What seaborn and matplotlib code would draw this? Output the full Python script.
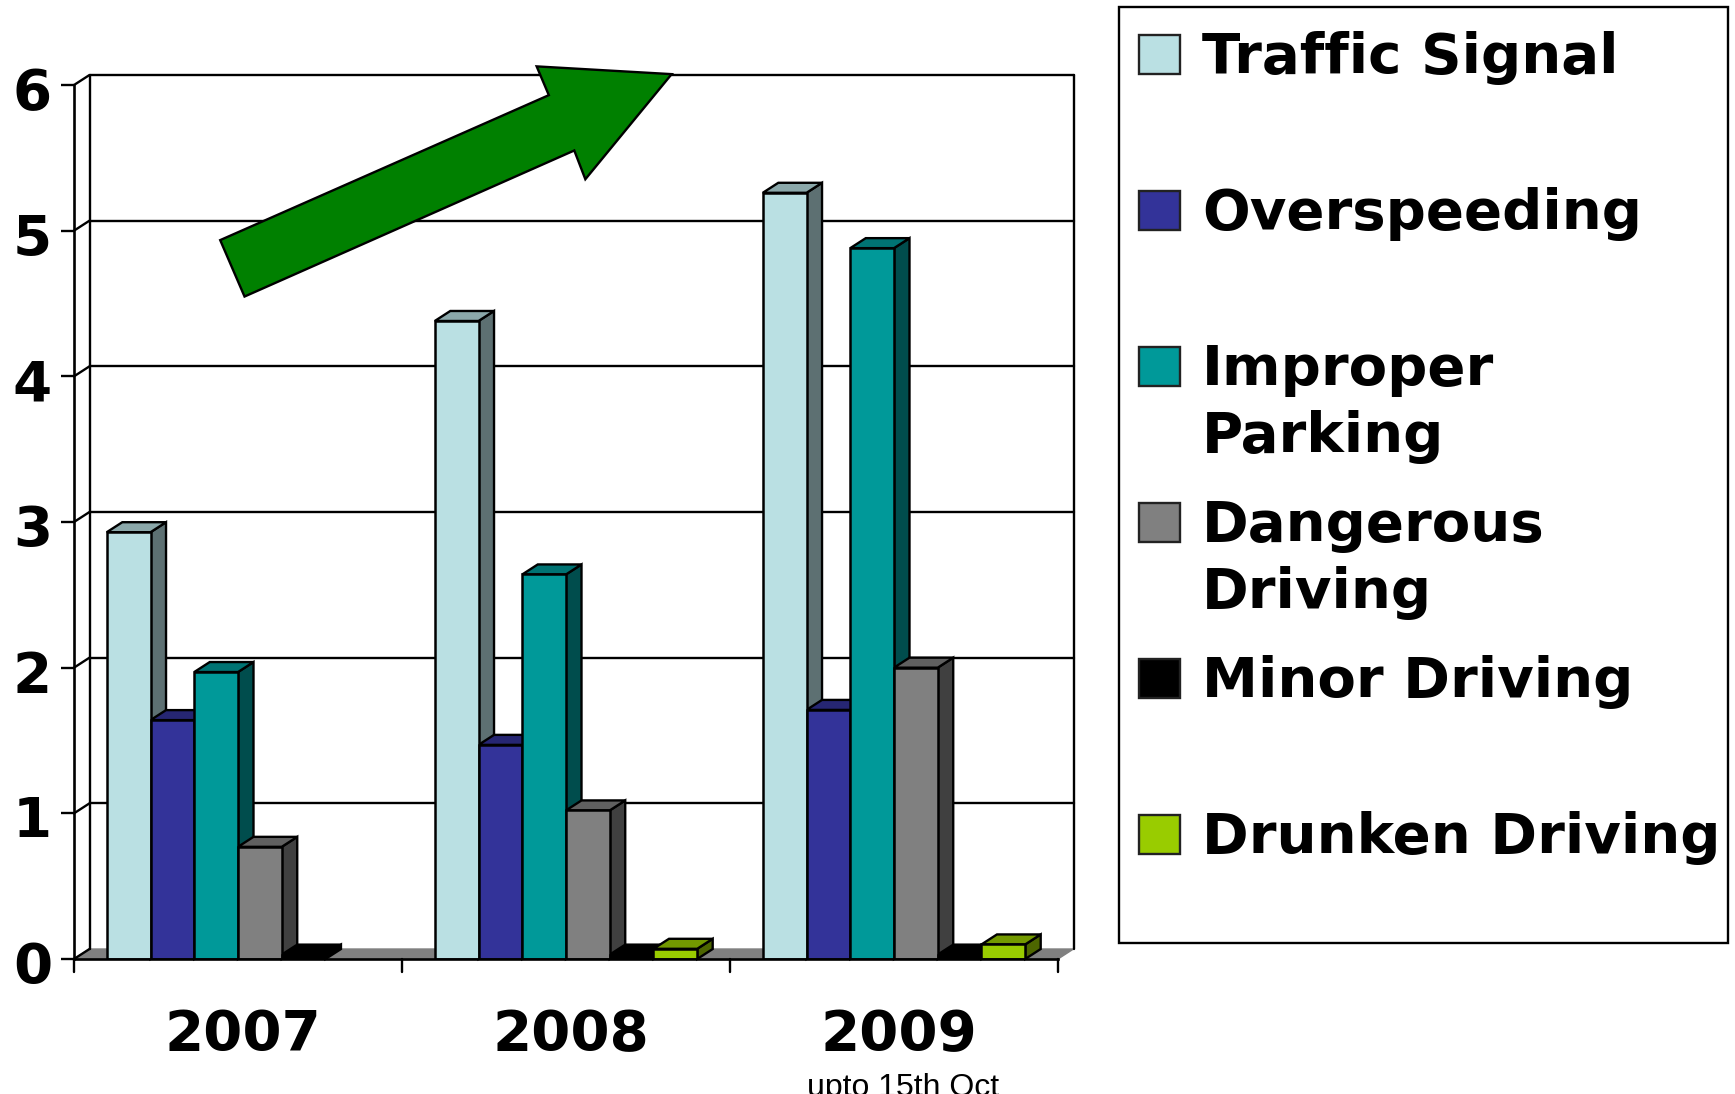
import numpy as np
import pandas as pd
import matplotlib
matplotlib.use("Agg")
import matplotlib.pyplot as plt
from matplotlib.patches import Polygon, Rectangle
from matplotlib.transforms import ScaledTranslation
import matplotlib.colors as mc
import seaborn as sns

years = ["2007", "2008", "2009"]
causes = ["Traffic Signal", "Overspeeding", "Improper\nParking",
          "Dangerous\nDriving", "Minor Driving", "Drunken Driving"]
traffic_signal = [2.93, 4.38, 5.26]
overspeeding = [1.64, 1.47, 1.71]
improper_parking = [1.97, 2.64, 4.88]
dangerous_driving = [0.77, 1.02, 2.00]
minor_driving = [0.03, 0.03, 0.03]
drunken_driving = [np.nan, 0.07, 0.10]
colors = ["#BAE0E3", "#333399", "#009999", "#808080", "#000000", "#99CC00"]
y_ticks = [0, 1, 2, 3, 4, 5, 6]

series = [traffic_signal, overspeeding, improper_parking,
          dangerous_driving, minor_driving, drunken_driving]
df = pd.DataFrame({
    "year": np.repeat(years, len(causes)),
    "cause": causes * len(years),
    "value": [series[c][y] for y in range(len(years)) for c in range(len(causes))],
})

sns.set_theme(style="white")
plt.rcParams["font.family"] = ["DejaVu Sans"]
BIG = 40.5

W, H = 1735, 1094
fig = plt.figure(figsize=(W / 100, H / 100), dpi=100, facecolor="white")
L, R, T, B = 74, 1058, 85, 959
ax = fig.add_axes([L / W, 1 - B / H, (R - L) / W, (B - T) / H])

sns.barplot(data=df, x="year", y="value", hue="cause", hue_order=causes,
            order=years, palette=dict(zip(causes, colors)), saturation=1,
            width=0.8, edgecolor="black", linewidth=1.8, legend=False,
            errorbar=None, ax=ax, zorder=5)
ax.set_xlim(-0.5, 2.5)
ax.set_ylim(0, 6)
ax.set_xlabel("")
ax.set_ylabel("")

# pseudo-3D depth, expressed in data units
dx = 15.5 / ((R - L) / 3)
dy = 10 / ((B - T) / 6)
x0, x1 = -0.5, 2.5
LW = 1.7

# floor
ax.add_patch(Polygon([(x0, 0), (x0 + dx, dy), (x1 + dx, dy), (x1, 0)], closed=True,
                     facecolor="#808080", edgecolor="#808080", lw=1,
                     clip_on=False, zorder=1))
# walls and gridlines
for v in y_ticks[1:]:
    ax.plot([x0 + dx, x1 + dx], [v + dy, v + dy], color="black", lw=LW, clip_on=False, zorder=1)
for v in y_ticks:
    ax.plot([x0, x0 + dx], [v, v + dy], color="black", lw=LW, clip_on=False, zorder=1.5)
ax.plot([x0 + dx, x0 + dx], [dy, 6 + dy], color="black", lw=LW, clip_on=False, zorder=1)
ax.plot([x1 + dx, x1 + dx], [dy, 6 + dy], color="black", lw=LW, clip_on=False, zorder=1)

# bar tops and sides
bars = [b for cont in ax.containers for b in cont if np.isfinite(b.get_height())]
bars.sort(key=lambda b: b.get_x())
for i, b in enumerate(bars):
    xl, w, h = b.get_x(), b.get_width(), b.get_height()
    xr = xl + w
    rgb = np.array(mc.to_rgb(b.get_facecolor()))
    z = 2 + i * 0.01
    ax.add_patch(Polygon([(xr, 0), (xr + dx, dy), (xr + dx, h + dy), (xr, h)], closed=True,
                         facecolor=rgb * 0.5, edgecolor="black", lw=LW, clip_on=False, zorder=z))
    ax.add_patch(Polygon([(xl, h), (xl + dx, h + dy), (xr + dx, h + dy), (xr, h)], closed=True,
                         facecolor=rgb * 0.75, edgecolor="black", lw=LW, clip_on=False, zorder=z))

sns.despine(ax=ax, top=True, right=True)
for s in ("left", "bottom"):
    ax.spines[s].set_color("black")
    ax.spines[s].set_linewidth(1.9)
    ax.spines[s].set_zorder(6)

# ticks
ax.set_yticks(y_ticks)
ax.set_yticklabels([str(v) for v in y_ticks])
ax.tick_params(axis="y", length=9.4, width=1.7, color="black", left=True, pad=19)
for lab in ax.get_yticklabels():
    lab.set_fontsize(BIG)
    lab.set_fontweight("bold")
    lab.set_color("black")
    lab.set_horizontalalignment("center")
    lab.set_transform(lab.get_transform() + ScaledTranslation(-2 / 100, -3 / 100, fig.dpi_scale_trans))

ax.set_xticks([0, 1, 2])
ax.set_xticklabels(years)
ax.tick_params(axis="x", length=0, pad=35)
for lab in ax.get_xticklabels():
    lab.set_fontsize(BIG)
    lab.set_fontweight("bold")
    lab.set_color("black")
    lab.set_transform(lab.get_transform() + ScaledTranslation(5 / 100, 0, fig.dpi_scale_trans))
for xt in [-0.5, 0.5, 1.5, 2.5]:
    ax.plot([xt, xt], [0, -13 / ((B - T) / 6)], color="black", lw=1.7, clip_on=False, zorder=6)

# overlay in pixel space for legend, arrow and note
ov = fig.add_axes([0, 0, 1, 1], facecolor="none")
ov.set_xlim(0, W)
ov.set_ylim(H, 0)
ov.axis("off")

s = W / 1568
arrow = [(199, 217), (496, 86), (485, 60), (607, 67), (529, 162), (519, 136), (221, 268)]
ov.add_patch(Polygon([(x * s, y * s) for x, y in arrow], closed=True,
                     facecolor="#008000", edgecolor="black", lw=1.7))

ov.text(903, 1096, "upto 15th Oct", fontsize=23, ha="center", va="baseline", color="black",
        family="Liberation Sans")

# legend
ov.add_patch(Rectangle((1119, 7), 609, 936, facecolor="white", edgecolor="black", lw=1.7))
for i, (c, col) in enumerate(zip(causes, colors)):
    y = 35 + i * 156
    ov.add_patch(Rectangle((1138.5, y), 41, 39, facecolor=col, edgecolor="#222222", lw=1.7))
    ov.text(1202, y - 4, c, fontsize=BIG, fontweight="bold", color="black",
            ha="left", va="top", linespacing=1.3)

fig.savefig("out.png", dpi=100, facecolor="white")
